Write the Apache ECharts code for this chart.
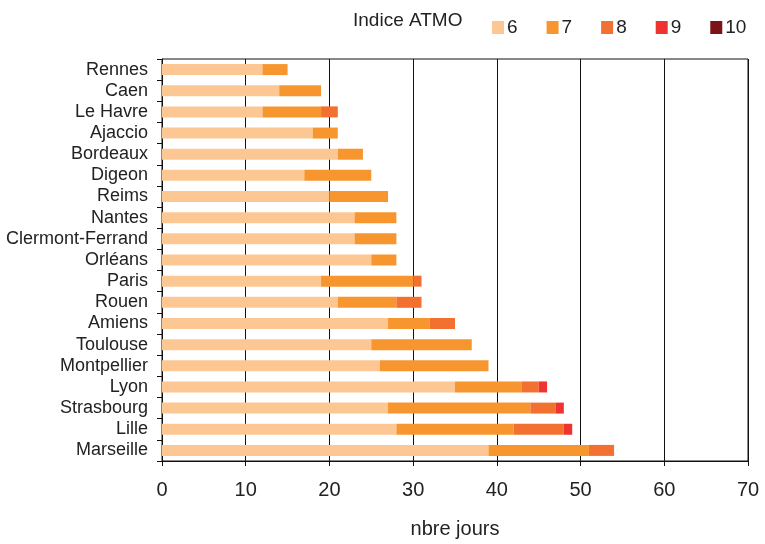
<!DOCTYPE html>
<html><head><meta charset="utf-8">
<script src="https://cdn.jsdelivr.net/npm/echarts@6/dist/echarts.min.js"></script>
<style>html,body{margin:0;padding:0;background:#fff}#c{width:765px;height:544px}</style>
</head><body><div id="c"></div>
<script>
const categories = ["Rennes","Caen","Le Havre","Ajaccio","Bordeaux","Digeon","Reims","Nantes","Clermont-Ferrand","Orléans","Paris","Rouen","Amiens","Toulouse","Montpellier","Lyon","Strasbourg","Lille","Marseille"];
const idx6  = [12,14,12,18,21,17,20,23,23,25,19,21,27,25,26,35,27,28,39];
const idx7  = [3,5,7,3,3,8,7,5,5,3,11,7,5,12,13,8,17,14,12];
const idx8  = [0,0,2,0,0,0,0,0,0,0,1,3,3,0,0,2,3,6,3];
const idx9  = [0,0,0,0,0,0,0,0,0,0,0,0,0,0,0,1,1,1,0];
const idx10 = [0,0,0,0,0,0,0,0,0,0,0,0,0,0,0,0,0,0,0];
const xTicks = [0,10,20,30,40,50,60,70];
const seriesNames = ["6","7","8","9","10"];
const colors = ["#FDC794","#F7962F","#F27130","#EE3430","#7B1416"];
const font = '"Liberation Sans Narrow","Liberation Sans",Arial,sans-serif';
const chart = echarts.init(document.getElementById('c'));
const dataSets = [idx6, idx7, idx8, idx9, idx10];
chart.setOption({
  animation:false,
  textStyle:{fontFamily:font},
  graphic:[{type:'text',left:353,top:11,style:{text:'Indice ATMO',fontFamily:font,fontSize:19,fill:'#222'}}],
  legend:{left:487,top:13,itemWidth:12,itemHeight:13,itemGap:29,icon:'rect',
    textStyle:{fontFamily:font,fontSize:19,color:'#222',padding:[0,0,0,-2]},
    data:seriesNames},
  grid:{left:162,right:17,top:59,bottom:80,show:true,borderColor:'#111',borderWidth:1},
  xAxis:{type:'value',min:0,max:70,interval:10,
    name:'nbre jours',nameLocation:'middle',nameGap:58,
    nameTextStyle:{fontFamily:font,fontSize:20,color:'#222'},
    axisLine:{show:true,lineStyle:{color:'#111'}},
    axisTick:{show:true,length:5,lineStyle:{color:'#111'}},
    axisLabel:{fontFamily:font,fontSize:20,color:'#222',margin:19,
      formatter:v=>xTicks.includes(v)?String(v):''},
    splitLine:{show:true,lineStyle:{color:'#111',width:1}}},
  yAxis:{type:'category',data:categories,inverse:true,
    axisLine:{show:true,lineStyle:{color:'#111'}},
    axisTick:{show:true,length:5,lineStyle:{color:'#111'}},
    axisLabel:{interval:0,fontFamily:font,fontSize:18,color:'#222',margin:14}},
  series:dataSets.map((d,i)=>({name:seriesNames[i],type:'bar',stack:'t',barWidth:11,
    itemStyle:{color:colors[i]},data:d}))
});
</script></body></html>
